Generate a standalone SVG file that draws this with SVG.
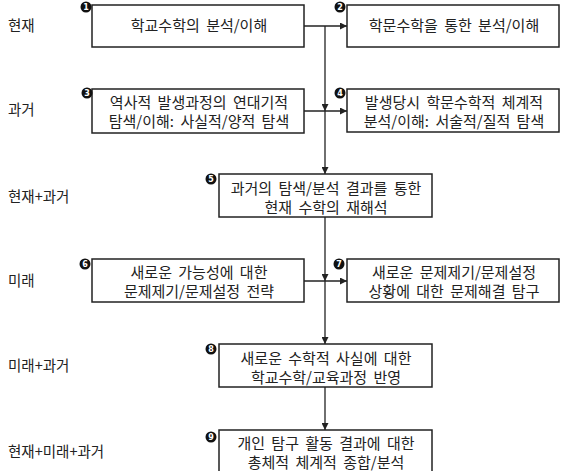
<svg xmlns="http://www.w3.org/2000/svg" width="564" height="471" viewBox="0 0 564 471">
<defs>
<style>
text{font-family:"Noto Sans CJK KR","Noto Sans",sans-serif;fill:#222;}
.lbl{font-size:14.5px;}
.t{font-size:15px;text-anchor:middle;word-spacing:3px;}
.box{fill:#fff;stroke:#222;stroke-width:1.5;}
.ln{stroke:#222;stroke-width:1.3;fill:none;}
.bd{fill:#111;}
.bn{font-family:"DejaVu Sans",sans-serif;font-size:8px;font-weight:bold;fill:#fff;text-anchor:middle;}
</style>
<marker id="ah" viewBox="0 0 10 10" refX="10" refY="5" markerWidth="9" markerHeight="7" markerUnits="userSpaceOnUse" orient="auto">
<path d="M0,0 L10,5 L0,10 z" fill="#222"/>
</marker>
</defs>
<rect width="564" height="471" fill="#fff"/>
<g id="labels">
<text class="lbl" x="8" y="31">현재</text>
<text class="lbl" x="8" y="115">과거</text>
<text class="lbl" x="8" y="202">현재+과거</text>
<text class="lbl" x="8" y="286">미래</text>
<text class="lbl" x="8" y="371">미래+과거</text>
<text class="lbl" x="8" y="457">현재+미래+과거</text>
</g>
<g id="connectors">
<line class="ln" x1="304" y1="26" x2="347" y2="26" marker-end="url(#ah)"/>
<line class="ln" x1="304" y1="111" x2="347" y2="111" marker-end="url(#ah)"/>
<line class="ln" x1="304" y1="281" x2="347" y2="281" marker-end="url(#ah)"/>
<line class="ln" x1="325" y1="26" x2="325" y2="111" marker-end="url(#ah)"/>
<line class="ln" x1="325" y1="111" x2="325" y2="174" marker-end="url(#ah)"/>
<line class="ln" x1="325" y1="217" x2="325" y2="281" marker-end="url(#ah)"/>
<line class="ln" x1="325" y1="281" x2="325" y2="344" marker-end="url(#ah)"/>
<line class="ln" x1="325" y1="387" x2="325" y2="430" marker-end="url(#ah)"/>
</g>
<g id="n1">
<rect class="box" x="92" y="5" width="212" height="42"/>
<text class="t" x="199" y="31">학교수학의 분석/이해</text>
<circle class="bd" cx="86" cy="7" r="5.5"/><text class="bn" x="86" y="10">1</text>
</g>
<g id="n2">
<rect class="box" x="347" y="5" width="212" height="42"/>
<text class="t" x="454" y="31">학문수학을 통한 분석/이해</text>
<circle class="bd" cx="340" cy="7" r="5.5"/><text class="bn" x="340" y="10">2</text>
</g>
<g id="n3">
<rect class="box" x="92" y="89" width="212" height="44"/>
<text class="t" x="199" y="108">역사적 발생과정의 연대기적</text>
<text class="t" x="199" y="127">탐색/이해: 사실적/양적 탐색</text>
<circle class="bd" cx="87" cy="93" r="5.5"/><text class="bn" x="87" y="96">3</text>
</g>
<g id="n4">
<rect class="box" x="347" y="89" width="212" height="43"/>
<text class="t" x="454" y="108">발생당시 학문수학적 체계적</text>
<text class="t" x="454" y="127">분석/이해: 서술적/질적 탐색</text>
<circle class="bd" cx="340" cy="93" r="5.5"/><text class="bn" x="340" y="96">4</text>
</g>
<g id="n5">
<rect class="box" x="219" y="174" width="213" height="43"/>
<text class="t" x="326" y="194">과거의 탐색/분석 결과를 통한</text>
<text class="t" x="326" y="213">현재 수학의 재해석</text>
<circle class="bd" cx="211" cy="179" r="5.5"/><text class="bn" x="211" y="182">5</text>
</g>
<g id="n6">
<rect class="box" x="92" y="259" width="212" height="43"/>
<text class="t" x="199" y="278">새로운 가능성에 대한</text>
<text class="t" x="199" y="297">문제제기/문제설정 전략</text>
<circle class="bd" cx="85" cy="264" r="5.5"/><text class="bn" x="85" y="267">6</text>
</g>
<g id="n7">
<rect class="box" x="347" y="259" width="212" height="43"/>
<text class="t" x="454" y="278">새로운 문제제기/문제설정</text>
<text class="t" x="454" y="297">상황에 대한 문제해결 탐구</text>
<circle class="bd" cx="339" cy="264" r="5.5"/><text class="bn" x="339" y="267">7</text>
</g>
<g id="n8">
<rect class="box" x="219" y="344" width="213" height="43"/>
<text class="t" x="326" y="364">새로운 수학적 사실에 대한</text>
<text class="t" x="326" y="383">학교수학/교육과정 반영</text>
<circle class="bd" cx="211" cy="349" r="5.5"/><text class="bn" x="211" y="352">8</text>
</g>
<g id="n9">
<rect class="box" x="219" y="430" width="213" height="45"/>
<text class="t" x="326" y="449">개인 탐구 활동 결과에 대한</text>
<text class="t" x="326" y="468">총체적 체계적 종합/분석</text>
<circle class="bd" cx="211" cy="437" r="5.5"/><text class="bn" x="211" y="440">9</text>
</g>
</svg>
